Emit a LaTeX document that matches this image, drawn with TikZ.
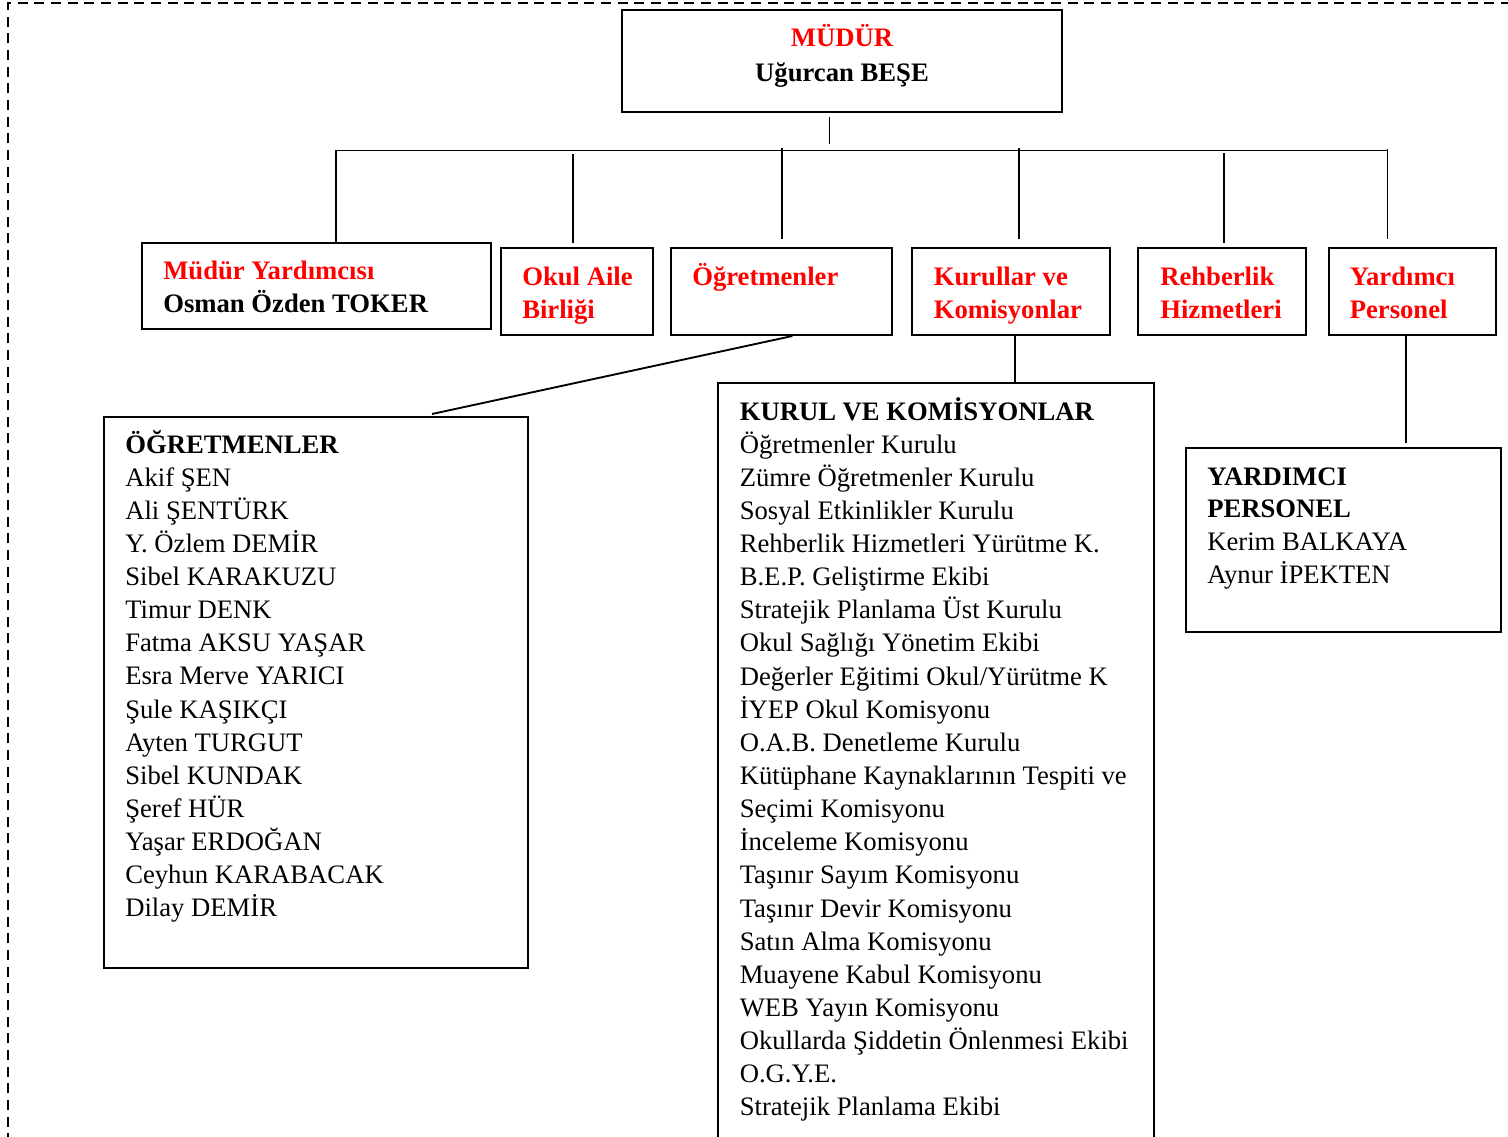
\documentclass[tikz,border=0pt]{standalone}
\usepackage{fontspec}
\setmainfont{Liberation Serif}
\usetikzlibrary{fit,calc}
\definecolor{hred}{RGB}{255,0,0}
\tikzset{
  boxsty/.style={draw, line width=1.5pt, inner sep=0pt, rectangle},
  linksty/.style={line width=1.4pt},
  framesty/.style={line width=1.7pt, dash pattern=on 7.5pt off 5pt},
  hd/.style={font=\bfseries, text=hred, anchor=base west, inner sep=0pt},
  nm/.style={font=\bfseries, anchor=base west, inner sep=0pt},
  itm/.style={anchor=base west, inner sep=0pt}
}
\begin{document}
\fontsize{20}{24}\selectfont
\begin{tikzpicture}[x=0.75pt, y=-0.75pt]
\useasboundingbox (0,0) rectangle (1508,1137);
\clip (0,0) rectangle (1508,1137);
% dashed frame
\coordinate (frTL) at (8,3);
\coordinate (frTR) at (1530,3);
\coordinate (frBL) at (8,1160);
\draw[framesty] (frBL) -- (frTL) -- (frTR);

% boxes
\node[boxsty, fit={(622,10.5) (1061.5,112.5)}] (mudur) {};
\node[boxsty, fit={(142,243) (491,329)}] (myard) {};
\node[boxsty, fit={(501,248.5) (653,335)}] (oab) {};
\node[boxsty, fit={(671,248.5) (891.5,335)}] (ogr) {};
\node[boxsty, fit={(911.5,248.5) (1109.5,335)}] (kur) {};
\node[boxsty, fit={(1138,248.5) (1305.5,335)}] (reh) {};
\node[boxsty, fit={(1328.5,248.5) (1495.5,335)}] (yrd) {};
\node[boxsty, fit={(104,417) (528,968)}] (ogrlist) {};
\node[boxsty, fit={(718,383) (1154,1170)}] (kurlist) {};
\node[boxsty, fit={(1186,448) (1501,632)}] (yrdlist) {};

% header texts
\node[font=\bfseries, text=hred, anchor=base, inner sep=0pt] (mudurA) at (842,47) {MÜDÜR};
\node[font=\bfseries, anchor=base, inner sep=0pt] (mudurB) at (842,82) {Uğurcan BEŞE};
\node[hd] (myardA) at (163,279.5) {Müdür Yardımcısı};
\node[nm] (myardB) at (163,313) {Osman Özden TOKER};
\node[hd] (oabA) at (522,286) {Okul Aile};
\node[hd] (oabB) at (522,319) {Birliği};
\node[hd] (ogrA) at (692,286) {Öğretmenler};
\node[hd] (kurA) at (933.5,286) {Kurullar ve};
\node[hd] (kurB) at (933.5,319) {Komisyonlar};
\node[hd] (rehA) at (1160,286) {Rehberlik};
\node[hd] (rehB) at (1160,319) {Hizmetleri};
\node[hd] (yrdA) at (1349.5,286) {Yardımcı};
\node[hd] (yrdB) at (1349.5,319) {Personel};

% teachers list
\node[nm] (tchH) at (125,453) {ÖĞRETMENLER};
\foreach \t [count=\i] in {Akif ŞEN, Ali ŞENTÜRK, Y. Özlem DEMİR, Sibel KARAKUZU, Timur DENK, Fatma AKSU YAŞAR, Esra Merve YARICI, Şule KAŞIKÇI, Ayten TURGUT, Sibel KUNDAK, Şeref HÜR, Yaşar ERDOĞAN, Ceyhun KARABACAK, Dilay DEMİR}
  \node[itm] (tch\i) at (125,453+\i*33.14) {\t};

% kurul list
\node[nm] (kurH) at (739.5,420) {KURUL VE KOMİSYONLAR};
\foreach \t [count=\i] in {Öğretmenler Kurulu, Zümre Öğretmenler Kurulu, Sosyal Etkinlikler Kurulu, Rehberlik Hizmetleri Yürütme K., B.E.P. Geliştirme Ekibi, Stratejik Planlama Üst Kurulu, Okul Sağlığı Yönetim Ekibi, Değerler Eğitimi Okul/Yürütme K, İYEP Okul Komisyonu, O.A.B. Denetleme Kurulu, Kütüphane Kaynaklarının Tespiti ve, Seçimi Komisyonu, İnceleme Komisyonu, Taşınır Sayım Komisyonu, Taşınır Devir Komisyonu, Satın Alma Komisyonu, Muayene Kabul Komisyonu, WEB Yayın Komisyonu, Okullarda Şiddetin Önlenmesi Ekibi, O.G.Y.E., Stratejik Planlama Ekibi}
  \node[itm] (kur\i) at (739.5,420+\i*33.14) {\t};

% yardimci list
\node[nm] (yrdH1) at (1207,485) {YARDIMCI};
\node[nm] (yrdH2) at (1207,517.5) {PERSONEL};
\node[itm] (yrdI1) at (1207,550) {Kerim BALKAYA};
\node[itm] (yrdI2) at (1207,583) {Aynur İPEKTEN};

% connectors
\coordinate (mtop) at (829.5,117);
\coordinate (mbot) at (829.5,144);
\draw[linksty] (mtop) -- (mbot);
\coordinate (busL) at (336,150.5);
\coordinate (busR) at (1388,150.5);
\draw[linksty] (busL) -- (busR);
\draw[linksty] (busL) -- (busL |- myard.north);
\coordinate (j2) at (573,154);
\draw[linksty] (j2) -- ($(j2 |- oab.north)+(0,-4)$);
\coordinate (j3) at (782,148);
\draw[linksty] (j3) -- ($(j3 |- ogr.north)+(0,-8.5)$);
\coordinate (j4) at (1019,148);
\draw[linksty] (j4) -- ($(j4 |- kur.north)+(0,-8.5)$);
\coordinate (j5) at (1224,153);
\draw[linksty] (j5) -- ($(j5 |- reh.north)+(0,-4)$);
\coordinate (j6) at (1387.5,149);
\draw[linksty] (j6) -- ($(j6 |- yrd.north)+(0,-8.5)$);

\coordinate (ogrEnd) at (432,414);
\draw[linksty] ($(ogr.south west)!0.55!(ogr.south east)$) -- (ogrEnd);
\coordinate (kurDrop) at (1015,335);
\draw[linksty] (kurDrop) -- (kurDrop |- kurlist.north);
\coordinate (yrdDrop) at (1406,335);
\draw[linksty] (yrdDrop) -- ($(yrdDrop |- yrdlist.north)+(0,-4)$);
\end{tikzpicture}
\end{document}
